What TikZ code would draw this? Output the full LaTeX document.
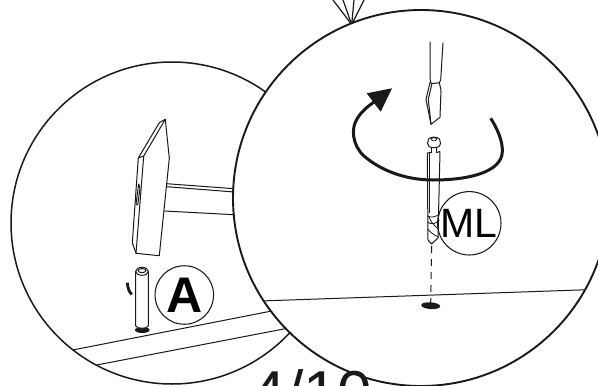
\documentclass[tikz,border=0pt]{standalone}
\usepackage{fontspec}
\setmainfont{Liberation Sans}
\tikzset{
  thinln/.style={line width=1pt,black!90,line join=round},
  ringln/.style={line width=1.5pt,black!90},
  bigring/.style={line width=1.9pt,black!90,fill=white},
  badge/.style={circle,draw=black!90,line width=1.05pt,minimum size=58.5pt,inner sep=0pt,fill=white},
  blob/.style={fill=black!90,draw=none},
  turnln/.style={line width=3pt,black!90,line cap=butt}
}
\begin{document}
\begin{tikzpicture}[x=1pt,y=-1pt]
\useasboundingbox (0,0) rectangle (598,386);
\clip (0,0) rectangle (598,386);
\fill[white] (0,0) rectangle (598,386);
% top pointer
\coordinate (tip) at (351.7,24.5);
\foreach \tx in {333,343,354,364} \draw[line width=1.2pt,black!90] (tip) -- (\tx,0);
% left detail circle
\draw[ringln,fill=white] (172,223) circle[radius=161];
% floor
\draw[thinln] (72.7,350) -- (271.7,311);
\draw[thinln] (96.7,365) -- (287.3,328.3);
% hammer
\draw[thinln,fill=white] (165.3,119.3) -- (169.3,158.3) -- (159.3,255.7) -- (136,253.3) -- (132.3,242.7) -- (138.3,158) -- (159.3,122.7) -- cycle;
\draw[thinln] (138.3,158) -- (143.7,156) -- (165.3,119.3);
\draw[thinln] (143.7,156) -- (136,253.3);
\draw[thinln] (136,204) -- (138.7,184) -- (140,188.3) -- (137.7,205) -- cycle;
\draw[thinln] (166.7,183.7) -- (234.3,188.7);
\draw[thinln] (166.7,186.7) -- (234.3,192);
\draw[thinln] (164.3,211) -- (234.3,214.7);
% pin
\fill[blob] (142.3,330) ellipse[x radius=7.3,y radius=3];
\draw[thinln,fill=white] (135.7,271) -- (135.7,326) .. controls (137,329) and (147,329) .. (148.3,326) -- (148.3,271);
\draw[thinln,fill=white] (142,271.3) ellipse[x radius=6.3,y radius=4];
\draw[thinln] (142,270.6) ellipse[x radius=4,y radius=2];
\draw[line width=2.8pt,black!90] (127.3,282.7) .. controls (127.8,288) and (129,291.5) .. (131.7,294.5);
% badge A
\node[badge,font=\bfseries\fontsize{50}{50}\selectfont] (badgeA) at (184.3,295) {A};
% right detail circle
\draw[bigring] (421,198) circle[radius=188];
\draw[thinln] (263,300.9) -- (585,289.8);
% badge ML
\node[badge,font=\fontsize{41}{41}\selectfont] (badgeML) at (469.3,223.3) {ML};
% screwdriver
\draw[thinln] (430,41.7) -- (430,78) -- (430.7,82.7);
\draw[thinln] (443,42.7) -- (440.7,80) -- (439.3,82.7);
\draw[thinln] (430,82.7) -- (433,83.5) -- (439.3,82.7) -- (441,90) -- (440,117.3) -- (431,124.3) -- (426,99.3) -- cycle;
\draw[thinln] (432,83.3) -- (428.3,99.3) -- (431,124.3);
% screw
\draw[thinln] (427.3,153) -- (428,240) -- (431.5,244) -- (438,238) -- (440,151.5);
\draw[thinln] (429.3,153) -- (429.3,213);
\draw[thinln] (427.3,153) -- (431,152.5) (436.7,152.5) -- (440,151.5);
\draw[thinln] (431,147) -- (431,153) (436.7,147) -- (436.7,153);
\draw[thinln,fill=white] (428.5,139) .. controls (427.2,142) and (427.2,145) .. (429,146.5) .. controls (431,148) and (437,148) .. (439,146.5) .. controls (440.8,145) and (440.8,141) .. (439.5,139) .. controls (437,136.5) and (431,136.5) .. (428.5,139) -- cycle;
\draw[line width=0.6pt] (431,139) .. controls (432,141.5) and (436,141.5) .. (437,139) .. controls (436,137.5) and (432,137.5) .. (431,139) -- cycle;
\draw[line width=0.8pt,black!90] (427.5,216) .. controls (431,218) and (436,217) .. (439.5,214);
\draw[line width=0.8pt,black!90] (427.6,222) .. controls (431,225) and (436,224) .. (439.3,220);
\draw[line width=0.8pt,black!90] (429,216.5) .. controls (430,221) and (434,226) .. (438.8,229);
\draw[line width=0.8pt,black!90] (427.8,229) .. controls (430,232) and (434,235) .. (438.2,237);
% turning arrow
\draw[turnln] (490.7,118.3) .. controls (500,133) and (504,146) .. (501.7,156) .. controls (497,172) and (470,180) .. (433,180) .. controls (405,180) and (380,170) .. (364,156) .. controls (352,145) and (351,128) .. (357,119) .. controls (361,112) and (367,107) .. (374,102);
\fill[blob] (366.7,93.3) -- (392,88.3) -- (380.7,111.7) -- cycle;
% dashed guide and hole
\coordinate (guideTop) at (431.7,246);
\fill[blob,rotate around={-4:(430.7,305.7)}] (430.7,305.7) ellipse[x radius=9.5,y radius=3.4];
\draw[thinln,dash pattern=on 7pt off 6pt] (guideTop) -- (430.7,303);
% page number
\node[anchor=base,font=\fontsize{62}{62}\selectfont,inner sep=0pt,text=black!90] (pageno) at (312,414) {4/10};
\end{tikzpicture}
\end{document}
